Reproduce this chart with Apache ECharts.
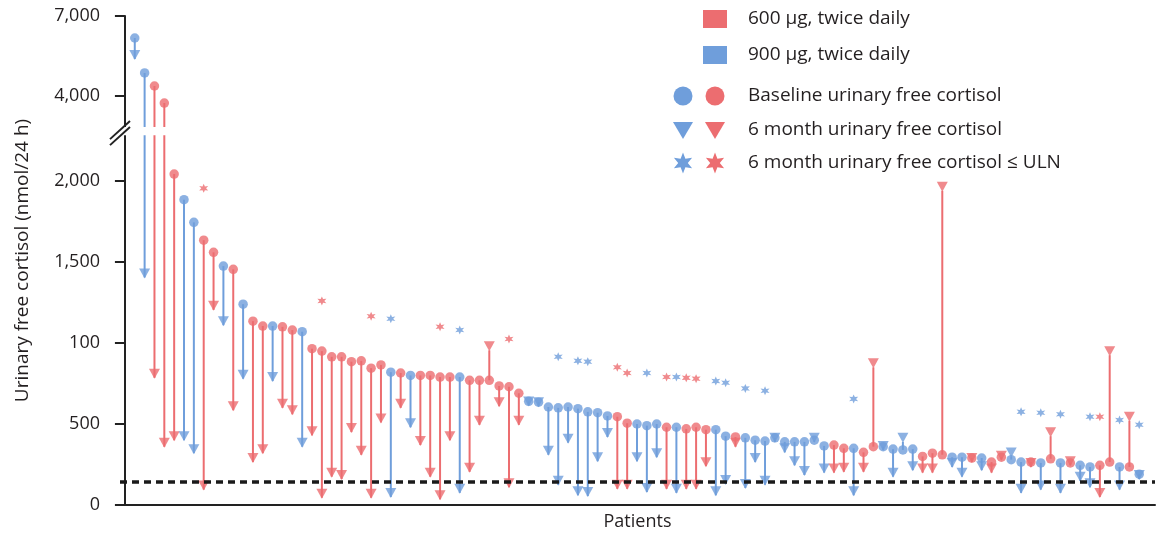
<!DOCTYPE html>
<html><head><meta charset="utf-8">
<script src="https://cdn.jsdelivr.net/npm/echarts@6/dist/echarts.min.js"></script>
<style>html,body{margin:0;padding:0;background:#fff}#c{width:1158px;height:536px}</style>
</head><body><div id="c"></div>
<script>
// ---------------- data ----------------
const patients = Array.from({length:103}, (_, i) => i + 1);
const doseGroup = [900,900,600,600,600,900,900,600,600,900,600,900,600,600,900,600,600,900,600,600,
600,600,600,600,600,600,900,600,900,600,600,600,600,900,600,600,600,600,600,600,
900,900,900,900,900,900,900,900,900,600,600,900,900,900,600,900,600,600,600,900,
900,600,900,900,900,900,900,900,900,900,900,600,600,900,600,600,900,900,900,900,
600,600,600,900,900,600,900,600,600,900,900,600,900,600,900,600,900,900,600,600,
900,600,900];
const baseline = [6175,4865,4375,3835,2165,1885,1745,1635,1560,1475,1455,1240,1135,1105,1105,1100,1080,1070,965,950,
915,915,885,890,845,865,820,815,800,800,800,790,790,790,770,770,770,735,730,690,
640,635,605,600,605,595,575,570,550,545,505,500,490,500,480,480,470,480,465,465,
425,420,415,400,395,415,390,390,390,400,365,370,350,350,325,360,360,345,340,345,
300,320,310,295,295,290,290,265,295,280,265,265,260,285,260,260,245,235,245,265,
235,235,190];
const month6 = [5390,1405,785,360,400,400,320,95,1205,1110,585,780,265,320,765,600,560,360,430,45,
175,160,450,310,45,510,50,600,480,370,175,35,400,75,205,495,955,610,110,495,
615,610,310,125,385,60,55,270,420,100,100,270,80,295,100,75,100,100,240,60,
130,360,105,265,125,390,325,245,185,390,200,200,205,60,205,850,340,175,390,215,
200,200,1940,235,175,265,215,200,280,300,75,235,95,425,75,245,150,110,50,925,
95,520,160];
const starPatients = [8,20,25,27,32,34,39,44,46,47,50,51,53,55,56,57,58,60,61,63,65,74,91,93,95,98,99,101,103];
const starValues   = [1955,1260,1165,1150,1100,1080,1025,915,890,885,850,815,815,790,790,785,780,765,755,720,705,655,575,570,560,545,545,525,495];
const ULN = 145;
const yTickValues = [0,500,1000,1500,2000,4000,7000];
const yTickLabels = ['0','500','100','1,500','2,000','4,000','7,000'];
const axisBreak = [3080, 3270];

// ---------------- broken scale ----------------
const realKnots = [0, 2000, 4000, 7000];
const dispKnots = [0, 2000, 2525, 3019];
function T(v){
  for (let k = 1; k < realKnots.length; k++){
    if (v <= realKnots[k] || k === realKnots.length - 1){
      const r0 = realKnots[k-1], r1 = realKnots[k], d0 = dispKnots[k-1], d1 = dispKnots[k];
      return d0 + (v - r0) * (d1 - d0) / (r1 - r0);
    }
  }
}
const RED = '#ec6d70', BLUE = '#6f9edb';
const colorOf = d => d === 600 ? RED : BLUE;
const FONT = '"Open Sans", "Noto Sans", sans-serif';

function starPts(cx, cy, R, r, n){
  const pts = [];
  for (let i = 0; i < 2*n; i++){
    const a = -Math.PI/2 + i*Math.PI/n;
    const rad = i % 2 === 0 ? R : r;
    pts.push([cx + rad*Math.cos(a), cy + rad*Math.sin(a)]);
  }
  return pts;
}
const starPath = 'path://' + starPts(10,10,10,4.6,6).map((p,i)=>(i?'L':'M')+p[0].toFixed(2)+' '+p[1].toFixed(2)).join(' ') + 'Z';

const tickDisp = yTickValues.map(T);

const chart = echarts.init(document.getElementById('c'), null, {renderer:'canvas'});
const option = {
  animation: false,
  backgroundColor: '#fff',
  grid: {left: 120, right: 3, top: 16, bottom: 31, containLabel: false, outerBoundsMode: 'none'},
  xAxis: {
    type: 'value', min: -0.5, max: 104.6,
    axisLine: {show: true, lineStyle: {color: '#222', width: 2}},
    axisTick: {show: false}, axisLabel: {show: false}, splitLine: {show: false},
    name: 'Patients', nameLocation: 'middle', nameGap: 8,
    nameTextStyle: {fontFamily: FONT, fontSize: 18, color: '#231f20', verticalAlign: 'top'}
  },
  yAxis: {
    type: 'value', min: 0, max: 3019,
    axisLine: {show: true, lineStyle: {color: '#222', width: 2}},
    axisTick: {show: true, customValues: tickDisp, length: 10, lineStyle: {color: '#222', width: 2}},
    axisLabel: {
      customValues: tickDisp, margin: 20, fontFamily: FONT, fontSize: 18, color: '#231f20',
      formatter: v => { const i = tickDisp.findIndex(t => Math.abs(t - v) < 1); return i >= 0 ? yTickLabels[i] : ''; }
    },
    splitLine: {show: false},
    name: 'Urinary free cortisol (nmol/24 h)', nameLocation: 'middle', nameGap: 88, nameRotate: 90,
    nameTextStyle: {fontFamily: FONT, fontSize: 19, color: '#231f20'}
  },
  series: [
    {
      type: 'custom', z: 2,
      data: patients.map((p, i) => [p, T(baseline[i]), T(month6[i]), doseGroup[i]]),
      encode: {x: 0, y: [1, 2]},
      renderItem: (params, api) => {
        const p1 = api.coord([api.value(0), api.value(1)]);
        const p2 = api.coord([api.value(0), api.value(2)]);
        return {type: 'line', shape: {x1: p1[0], y1: p1[1], x2: p2[0], y2: p2[1]},
                style: {stroke: colorOf(api.value(3)), lineWidth: 2}};
      },
      markLine: {
        silent: true, symbol: 'none', z: 10,
        label: {show: false},
        lineStyle: {color: '#1a1a1a', type: [7, 5], width: 3.5},
        data: [{yAxis: T(ULN)}]
      }
    },
    {
      type: 'scatter', z: 3, symbol: 'triangle', symbolRotate: 180, symbolSize: [11, 10], symbolOffset: [0, -4],
      data: patients.map((p, i) => ({value: [p, T(month6[i])], itemStyle: {color: colorOf(doseGroup[i])}}))
    },
    {
      type: 'scatter', z: 4, symbol: 'circle', symbolSize: 9.5,
      data: patients.map((p, i) => ({value: [p, T(baseline[i])], itemStyle: {color: colorOf(doseGroup[i])}}))
    },
    {
      type: 'scatter', z: 4, symbol: starPath, symbolSize: 9,
      data: starPatients.map((p, i) => ({value: [p, T(starValues[i])], itemStyle: {color: colorOf(doseGroup[p - 1])}}))
    }
  ]
};
chart.setOption(option);

// break marks and legend
const yb0 = chart.convertToPixel({yAxisIndex: 0}, T(axisBreak[0]));
const yb1 = chart.convertToPixel({yAxisIndex: 0}, T(axisBreak[1]));
const xAx = chart.convertToPixel({xAxisIndex: 0}, -0.5);
const xEnd = chart.convertToPixel({xAxisIndex: 0}, 5.5);
const gfx = [
  {type: 'rect', z: 20, shape: {x: xAx + 2, y: yb1, width: xEnd - xAx, height: yb0 - yb1}, style: {fill: '#fff'}},
  {type: 'rect', z: 20, shape: {x: xAx - 2, y: yb1 + 1, width: 4, height: yb0 - yb1 - 2}, style: {fill: '#fff'}},
  {type: 'line', z: 21, shape: {x1: xAx - 10, y1: yb0 + 4, x2: xAx + 10, y2: yb1 - 6}, style: {stroke: '#222', lineWidth: 2}},
  {type: 'line', z: 21, shape: {x1: xAx - 10, y1: yb0 + 10, x2: xAx + 10, y2: yb1}, style: {stroke: '#222', lineWidth: 2}}
];
const legendFont = '19px ' + FONT;
const lx1 = 683, lx2 = 715, ltx = 748;
const rows = [19, 55, 96, 130, 163];
const texts = ['600 μg, twice daily', '900 μg, twice daily', 'Baseline urinary free cortisol', '6 month urinary free cortisol', '6 month urinary free cortisol ≤ ULN'];
gfx.push({type: 'rect', shape: {x: lx2 - 12, y: rows[0] - 9, width: 24, height: 18}, style: {fill: RED}});
gfx.push({type: 'rect', shape: {x: lx2 - 12, y: rows[1] - 9, width: 24, height: 18}, style: {fill: BLUE}});
[[lx1, BLUE], [lx2, RED]].forEach(([x, c]) => {
  gfx.push({type: 'circle', shape: {cx: x, cy: rows[2], r: 9.5}, style: {fill: c}});
  gfx.push({type: 'polygon', shape: {points: [[x - 10, rows[3] - 8], [x + 10, rows[3] - 8], [x, rows[3] + 9]]}, style: {fill: c}});
  gfx.push({type: 'polygon', shape: {points: starPts(x, rows[4], 10.5, 4.8, 6)}, style: {fill: c}});
});
texts.forEach((t, i) => gfx.push({type: 'text', style: {text: t, x: ltx, y: rows[i], verticalAlign: 'middle', font: legendFont, fill: '#231f20'}}));
chart.setOption({graphic: gfx});
</script>
</body></html>
